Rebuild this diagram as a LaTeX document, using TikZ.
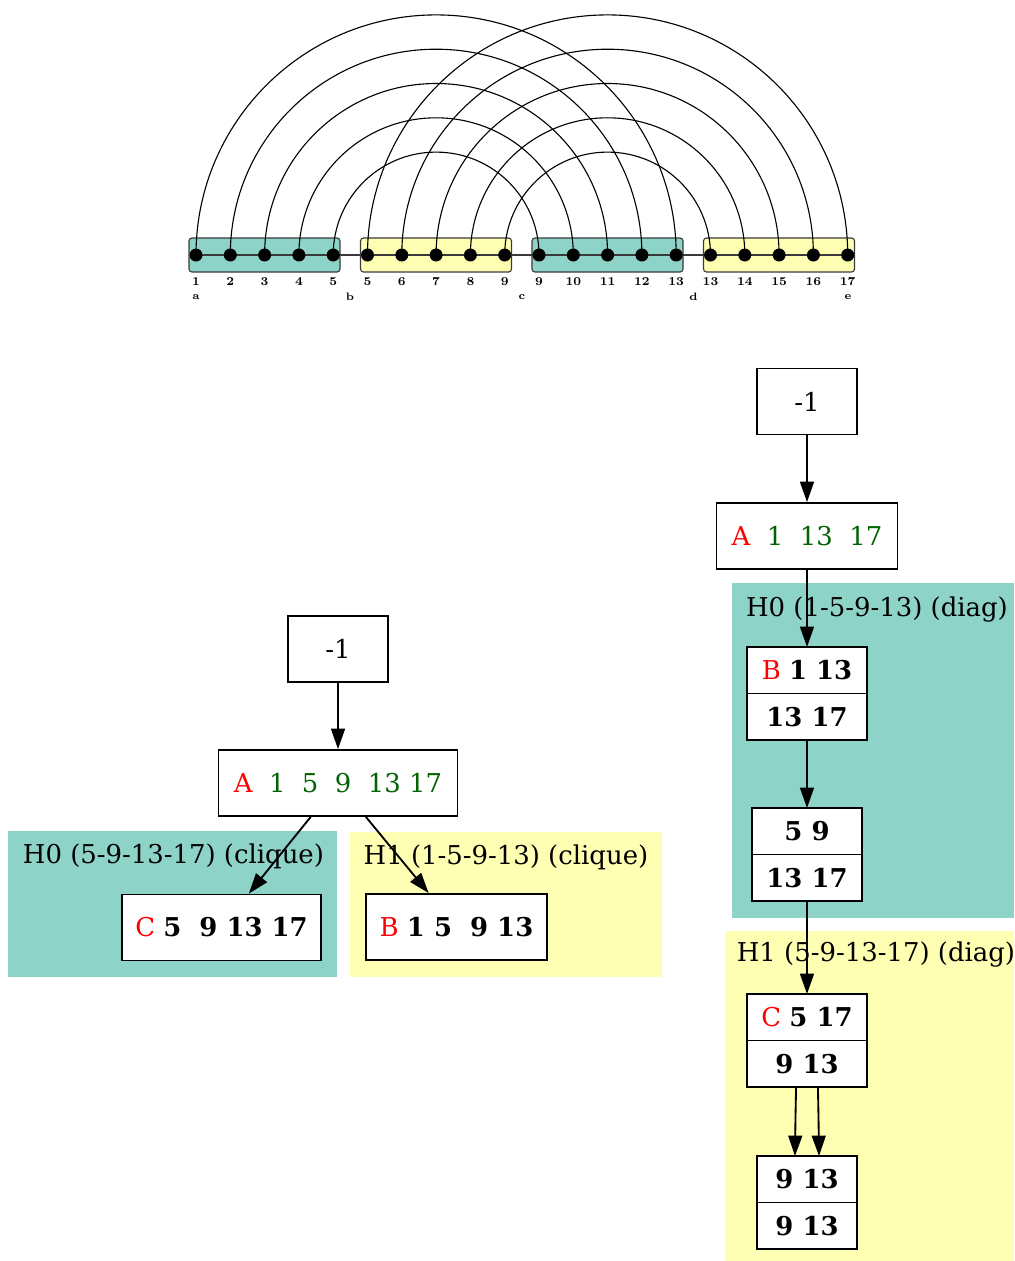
\documentclass[tikz,border=0pt]{standalone}
\usepackage{fontspec}
\usetikzlibrary{arrows.meta,positioning}
\newfontfamily\gvfont{DejaVu Serif}

\definecolor{setteal}{HTML}{8DD3C7}
\definecolor{setyellow}{HTML}{FFFFB3}
\definecolor{gvgreen}{HTML}{006400}
\definecolor{gvred}{HTML}{FF0000}
\definecolor{railgray}{HTML}{3A3A3A}

\tikzset{every picture/.style={line width=0.6pt}}
\tikzset{
  railbox/.style={draw=railgray, rounded corners=1.6pt},
  rail/.style={draw=railgray},
  link/.style={draw=black},
  pinnum/.style={inner sep=0pt, font=\fontsize{6.5}{7}\selectfont\bfseries},
  pinlet/.style={inner sep=0pt, font=\fontsize{5.8}{6}\selectfont\bfseries},
  gvbox/.style={draw, fill=white, line width=1pt, inner sep=0pt,
    minimum width=#1*0.54pt, minimum height=66*0.54pt,
    font=\gvfont\fontsize{14}{16}\selectfont},
  gvhalf/.style={gvbox=#1, minimum height=46.5*0.54pt, outer sep=0pt},
  gvlabel/.style={inner sep=0pt, font=\gvfont\fontsize{14}{16}\selectfont},
  gvedge/.style={line width=1pt, -{Triangle[length=11pt,width=7.5pt]}},
}
\newcommand{\tagred}[1]{{\color{gvred}#1}}
\newcommand{\grn}[1]{{\color{gvgreen}#1}}

\begin{document}
\begin{tikzpicture}[x=0.54pt,y=0.54pt,yscale=-1,xscale=1]
\useasboundingbox (0,0) rectangle (1014,1261);

%% pin rail with the four blocks
\foreach \g/\col in {0/setteal,1/setyellow,2/setteal,3/setyellow}{
  \draw[railbox, fill=\col] ({189+171.5*\g},238) rectangle ({340+171.5*\g},272);
}
\foreach \g in {0,...,3}
  \foreach \j in {0,...,4}
    \coordinate (p\g\j) at ({196+171.5*\g+34.3*\j},255);
\draw[rail] (p00) -- (p34);

% nested links between blocks
\foreach \j in {0,...,4}{
  \draw[link] (p0\j) arc[start angle=180, end angle=360, radius={240.1-34.3*\j}];
  \draw[link] (p1\j) arc[start angle=180, end angle=360, radius={240.1-34.3*\j}];
}
\foreach \g in {0,...,3}
  \foreach \j in {0,...,4}{
    \fill (p\g\j) circle[radius=6.5];
    \pgfmathtruncatemacro{\num}{4*\g+\j+1}
    \node[pinnum] (n\g\j) at ({196+171.5*\g+34.3*\j},282) {\num};
  }
\foreach \x/\t in {196/a,350/b,522/c,693.5/d,848/e}
  \node[pinlet] (l\t) at (\x,297) {\t};

%% left tree (clique)
\fill[setteal] (8,831) rectangle (337,977);
\fill[setyellow] (350,832) rectangle (662,977);
\node[gvlabel] (lH0) at (173.5,856) {H0 (5-9-13-17) (clique)};
\node[gvlabel] (lH1) at (506,857) {H1 (1-5-9-13) (clique)};

\node[gvbox=100] (lroot) at (338,649) {-1};
\node[gvbox=239] (lA) at (338,783) {\tagred{A}\grn{\ \ 1\ \ 5\ \ 9\ \ 13 17}};
\node[gvbox=199] (lC) at (221.5,927.5) {\tagred{C} \textbf{5\ \ 9 13 17}};
\node[gvbox=181] (lB) at (456.5,927) {\tagred{B} \textbf{1 5\ \ 9 13}};

\draw[gvedge] (lroot) -- (lA);
\draw[gvedge] (lA) -- (lC);
\draw[gvedge] (lA) -- (lB);

%% right tree (diag)
\fill[setteal] (732,583) rectangle (1014,918);
\fill[setyellow] (725,931) rectangle (1014,1261);
\node[gvlabel] (rH0) at (877,610) {H0 (1-5-9-13) (diag)};
\node[gvlabel] (rH1) at (876,955) {H1 (5-9-13-17) (diag)};

\node[gvbox=100] (rroot) at (807,401.5) {-1};
\node[gvbox=181] (rA) at (807,536) {\tagred{A}\grn{\ \ 1\ \ 13\ \ 17}};

\node[gvhalf=120] (rBtop) at (807,670.25) {\tagred{B} \textbf{1 13}};
\node[gvhalf=120, below=0pt of rBtop] (rBbot) {\textbf{13 17}};
\node[gvhalf=110] (r59top) at (807,831.25) {\textbf{5 9}};
\node[gvhalf=110, below=0pt of r59top] (r59bot) {\textbf{13 17}};
\node[gvhalf=120] (rCtop) at (807,1017.25) {\tagred{C} \textbf{5 17}};
\node[gvhalf=120, below=0pt of rCtop] (rCbot) {\textbf{9 13}};
\node[gvhalf=100] (r913top) at (807,1179.25) {\textbf{9 13}};
\node[gvhalf=100, below=0pt of r913top] (r913bot) {\textbf{9 13}};

\draw[gvedge] (rroot) -- (rA);
\draw[gvedge] (rA) -- (rBtop);
\draw[gvedge] (rBbot) -- (r59top);
\draw[gvedge] (r59bot) -- (rCtop);
\draw[gvedge] ([xshift=-5.9pt]rCbot.south) .. controls ([xshift=-6.2pt]rCbot.south |- 0,1115) .. ([xshift=-6.5pt]r913top.north);
\draw[gvedge] ([xshift=5.9pt]rCbot.south) .. controls ([xshift=6.2pt]rCbot.south |- 0,1115) .. ([xshift=6.5pt]r913top.north);
\end{tikzpicture}
\end{document}
